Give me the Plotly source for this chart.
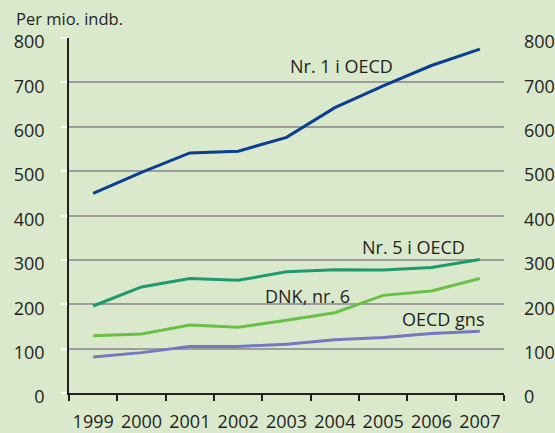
import plotly.graph_objects as go

years = ["1999", "2000", "2001", "2002", "2003", "2004", "2005", "2006", "2007"]
nr1_oecd = [450, 497, 541, 545, 576, 643, 692, 738, 775]
nr5_oecd = [196, 239, 258, 254, 273, 278, 277, 283, 301]
dnk_nr6 = [129, 133, 153, 148, 164, 181, 220, 230, 258]
oecd_gns = [81, 91, 105, 105, 110, 120, 125, 134, 139]
y_ticks = [0, 100, 200, 300, 400, 500, 600, 700, 800]

FONT = "Open Sans"
TXT = "#231f20"
BG = "#dae9cc"
FS = 18

fig = go.Figure()
series = [
    (oecd_gns, "#7478c0", "OECD gns"),
    (dnk_nr6, "#6abf45", "DNK, nr. 6"),
    (nr5_oecd, "#1f9a6e", "Nr. 5 i OECD"),
    (nr1_oecd, "#0b3d91", "Nr. 1 i OECD"),
]
for vals, col, name in series:
    fig.add_trace(go.Scatter(x=years, y=vals, mode="lines", name=name,
                             line=dict(color=col, width=3), showlegend=False))
# invisible trace to activate right axis
fig.add_trace(go.Scatter(x=years, y=nr1_oecd, yaxis="y2", mode="lines",
                         line=dict(color="rgba(0,0,0,0)", width=0),
                         hoverinfo="skip", showlegend=False))

fig.update_layout(
    width=555, height=433,
    margin=dict(l=68.7, r=51.3, t=38.3, b=40.3, autoexpand=False),
    paper_bgcolor=BG, plot_bgcolor=BG,
    font=dict(family=FONT, color=TXT, size=FS),
    xaxis=dict(type="category", range=[-0.5, 8.5], automargin=False,
               showgrid=False, showline=True, linecolor=TXT,
               linewidth=1.5, ticks="outside", tickson="boundaries", ticklen=6,
               tickcolor=TXT, tickwidth=1.5, ticklabelstandoff=12, tickangle=0,
               tickfont=dict(size=FS, color=TXT), zeroline=False),
    yaxis=dict(range=[0, 800], tickvals=y_ticks, automargin=False,
               showgrid=True, gridcolor="#9c9c9c",
               gridwidth=1.5, showline=True, linecolor=TXT, linewidth=1.5,
               ticks="outside", ticklen=6, tickcolor="#ffffff", tickwidth=1.5,
               ticklabelstandoff=13, ticklabelshift=4, zeroline=False,
               tickfont=dict(size=FS, color=TXT)),
    yaxis2=dict(range=[0, 800], tickvals=y_ticks, overlaying="y", side="right",
                automargin=False,
                showgrid=False, showline=False, ticks="", zeroline=False,
                ticklabelstandoff=19, ticklabelshift=4,
                tickfont=dict(size=FS, color=TXT)),
)

ann = [
    ("Per mio. indb.", -0.1257, 1.054, "paper", 16.5),
    ("Nr. 1 i OECD", 0.504, 736, "y", 18),
    ("Nr. 5 i OECD", 0.670, 330, "y", 18),
    ("DNK, nr. 6", 0.445, 218, "y", 18),
    ("OECD gns", 0.7617, 166, "y", 18),
]
for text, x, y, yref, fs in ann:
    fig.add_annotation(text=text, x=x, y=y, xref="paper", yref=yref,
                       xanchor="left", yanchor="middle", showarrow=False,
                       font=dict(size=fs, color=TXT, family=FONT))

fig.write_html("out.html", config={"displayModeBar": False},
               post_script="document.body.style.margin='0';document.body.style.overflow='hidden';")
